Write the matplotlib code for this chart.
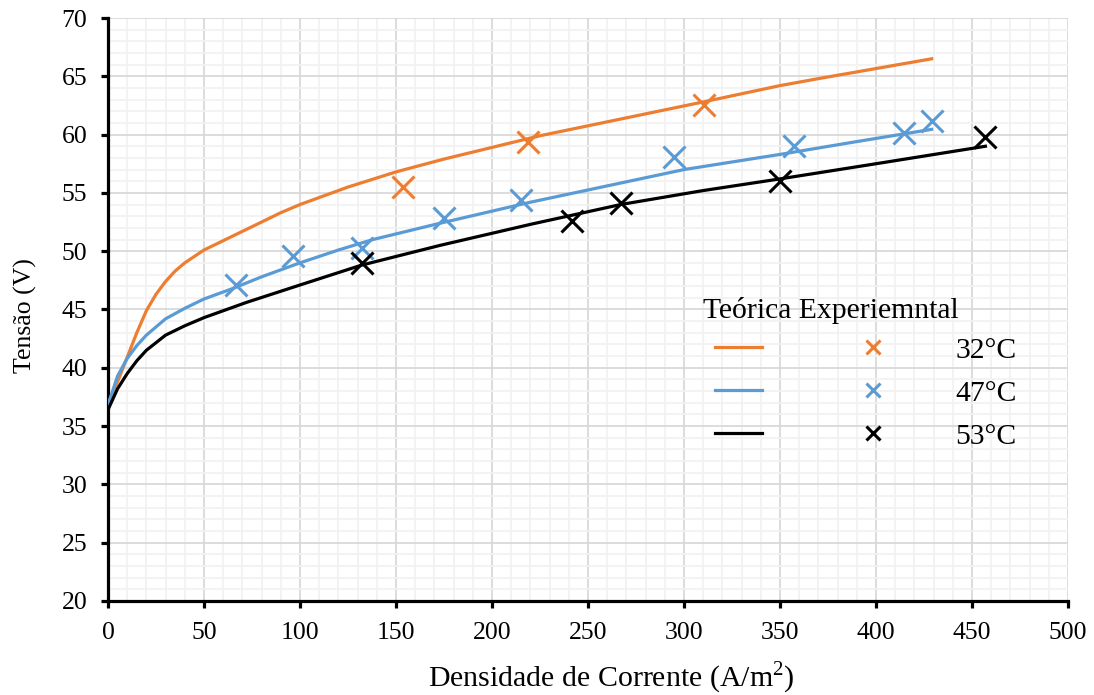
import numpy as np
import matplotlib
matplotlib.use("Agg")
import matplotlib.pyplot as plt
from matplotlib.ticker import MultipleLocator

plt.rcParams["font.family"] = ["Liberation Serif", "DejaVu Serif"]
plt.rcParams["mathtext.fontset"] = "custom"
plt.rcParams["mathtext.rm"] = "Liberation Serif"

# theoretical curves
x_32 = [0, 5, 10, 15, 20, 25, 30, 35, 40, 50, 60, 70, 80, 90, 100, 125, 150, 175, 200, 225, 310, 350, 370, 429]
y_32 = [36.9, 38.8, 40.9, 43.0, 44.9, 46.3, 47.4, 48.3, 49.0, 50.1, 50.9, 51.7, 52.5, 53.3, 54.0, 55.5, 56.8, 57.9,
        58.9, 59.9, 62.8, 64.2, 64.8, 66.5]

x_47 = [0, 5, 10, 15, 20, 30, 40, 50, 65, 80, 100, 120, 138, 173, 220, 260, 300, 350, 390, 429]
y_47 = [36.8, 39.3, 40.8, 41.9, 42.8, 44.2, 45.1, 45.9, 46.8, 47.8, 49.0, 50.1, 51.0, 52.4, 54.2, 55.6, 57.0, 58.3,
        59.4, 60.45]

x_53 = [0, 5, 10, 15, 20, 30, 40, 50, 72, 100, 132, 173, 220, 267, 310, 350, 400, 457]
y_53 = [36.4, 38.2, 39.5, 40.6, 41.5, 42.8, 43.6, 44.3, 45.6, 47.1, 48.8, 50.5, 52.3, 54.0, 55.2, 56.2, 57.5, 59.0]

# experimental points
ex_32 = [153.6, 218.8, 310.4]
ey_32 = [55.5, 59.4, 62.5]

ex_47 = [66.7, 96.4, 132.3, 175, 215, 294.8, 357.3, 414.5, 429]
ey_47 = [47.1, 49.6, 50.3, 52.85, 54.4, 58.1, 59.05, 60.1, 61.15]

ex_53 = [132.3, 241.7, 267, 350, 457]
ey_53 = [49.0, 52.6, 54.1, 56.0, 59.8]

labels = ["32°C", "47°C", "53°C"]
colors = ["#ED7D31", "#5B9BD5", "black"]

fig = plt.figure(figsize=(10.94, 6.95), dpi=100)
ax = fig.add_axes([0.0987, 0.1353, 0.8775, 0.8388])

lines = []
marks = []
for (xs, ys), (ex, ey), c in zip([(x_32, y_32), (x_47, y_47), (x_53, y_53)],
                                  [(ex_32, ey_32), (ex_47, ey_47), (ex_53, ey_53)], colors):
    l, = ax.plot(xs, ys, color=c, lw=2.3, solid_joinstyle="round", zorder=3)
    m, = ax.plot(ex, ey, ls="none", marker="x", ms=16, mew=2.2, color=c, zorder=4)
    lines.append(l)
    marks.append(m)

ax.set_xlim(0, 500)
ax.set_ylim(20, 70)
ax.xaxis.set_major_locator(MultipleLocator(50))
ax.xaxis.set_minor_locator(MultipleLocator(10))
ax.yaxis.set_major_locator(MultipleLocator(5))
ax.yaxis.set_minor_locator(MultipleLocator(1))
ax.grid(which="major", color="#d9d9d9", lw=1.3, zorder=0)
ax.grid(which="minor", color="#f2f2f2", lw=1.3, zorder=0)
ax.set_axisbelow(True)

for s in ["top", "right"]:
    ax.spines[s].set_visible(False)
for s in ["left", "bottom"]:
    ax.spines[s].set_linewidth(2.3)
ax.tick_params(which="major", direction="out", length=5, width=2.3, labelsize=18.5)
ax.tick_params(axis="y", pad=10)
ax.tick_params(axis="x", pad=10.5)
ax.tick_params(which="minor", length=0)

ax.set_xlabel("Densidade de Corrente (A/m$^2$)", fontsize=21.5)
ax.xaxis.set_label_coords(0.524, -0.101)
ax.set_ylabel("Tensão (V)", fontsize=18.5)
ax.yaxis.set_label_coords(-0.074, 0.49)

ax.text(0.620, 0.499, "Teórica Experiemntal", transform=ax.transAxes, fontsize=21.3, va="center", ha="left")
leg = ax.legend(lines + marks, ["", "", ""] + labels, ncol=2, frameon=False, fontsize=21.3,
                loc="upper left", bbox_to_anchor=(0.617, 0.478), borderpad=0,
                handlelength=1.6, handletextpad=2.0, columnspacing=0.93,
                labelspacing=0.55, markerscale=0.6)

fig.savefig("out.png", dpi=100)
